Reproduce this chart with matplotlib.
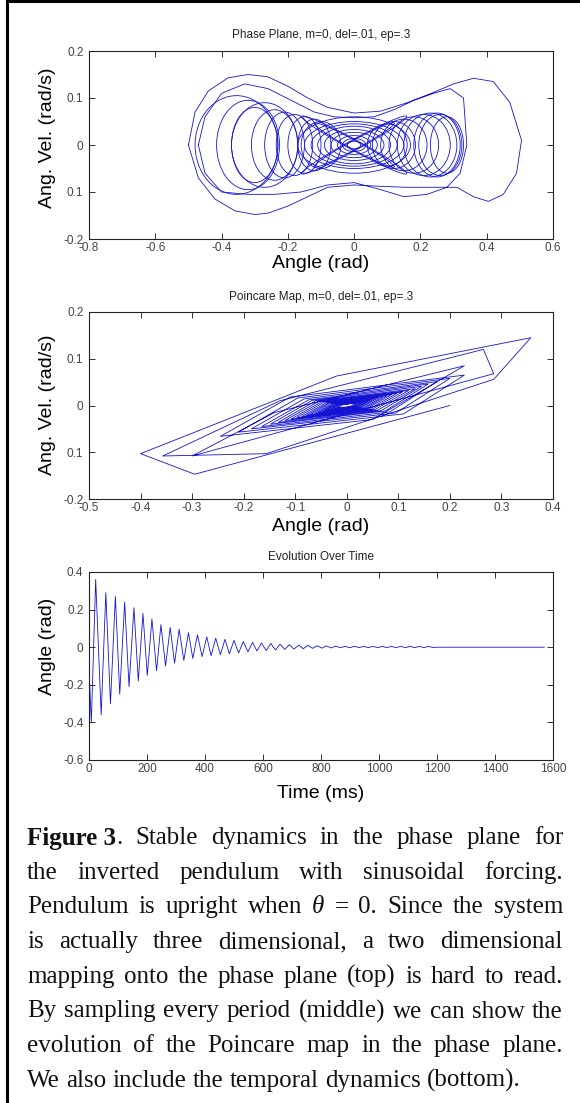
import matplotlib
matplotlib.use('Agg')
import matplotlib.pyplot as plt
from matplotlib.patches import Ellipse
from matplotlib.lines import Line2D
import numpy as np

# ---------------- data ----------------
# phase plane: outer "dumbbell" sweeps (polylines, NaN separates curves)
bell_x = [-0.50, -0.48, -0.44, -0.38, -0.32, -0.26, -0.20, -0.14, -0.08, 0.00, 0.08, 0.16, 0.24, 0.30, 0.36, 0.42, 0.47, 0.505, 0.49, 0.45, 0.405, 0.36, 0.31, 0.24, 0.16, 0.08, 0.00, -0.08, -0.14, -0.20, -0.26, -0.30, -0.36, -0.42, -0.47, -0.50, np.nan,
          -0.47, -0.45, -0.40, -0.33, -0.26, -0.19, -0.12, -0.06, 0.00, 0.06, 0.12, 0.18, 0.24, 0.29, 0.33, 0.34, 0.32, 0.28, 0.22, 0.15, 0.08, 0.00, -0.08, -0.16, -0.24, -0.32, -0.40, -0.45, -0.47]
bell_y = [0.00, 0.07, 0.115, 0.143, 0.150, 0.145, 0.125, 0.100, 0.080, 0.068, 0.072, 0.090, 0.112, 0.130, 0.142, 0.135, 0.090, 0.010, -0.060, -0.105, -0.120, -0.110, -0.090, -0.090, -0.090, -0.088, -0.085, -0.090, -0.110, -0.130, -0.145, -0.148, -0.140, -0.115, -0.070, 0.00, np.nan,
          0.00, 0.06, 0.11, 0.13, 0.12, 0.095, 0.07, 0.06, 0.058, 0.06, 0.075, 0.095, 0.11, 0.12, 0.10, 0.00, -0.06, -0.09, -0.105, -0.11, -0.095, -0.08, -0.085, -0.10, -0.105, -0.105, -0.10, -0.06, 0.00]

# phase plane: fast loops (centre, half width, half height, tilt)
loop_cx = [-0.355, -0.32, -0.30, -0.27, -0.24, -0.21, -0.18, -0.15, -0.12, -0.10,
           0.26, 0.25, 0.23, 0.21, 0.18, 0.15, 0.12, 0.10, 0.28,
           0.0, 0.0, 0.0, 0.0, 0.0, 0.0, 0.0, 0.0, 0.0,
           0.0, 0.0, 0.0, 0.0]
loop_rx = [0.125, 0.095, 0.07, 0.10, 0.07, 0.06, 0.055, 0.05, 0.05, 0.06,
           0.065, 0.07, 0.08, 0.08, 0.075, 0.07, 0.065, 0.06, 0.05,
           0.17, 0.15, 0.13, 0.11, 0.09, 0.07, 0.05, 0.035, 0.02,
           0.17, 0.17, 0.13, 0.13]
loop_ry = [0.105, 0.095, 0.08, 0.09, 0.075, 0.07, 0.065, 0.06, 0.055, 0.05,
           0.065, 0.068, 0.068, 0.065, 0.06, 0.055, 0.05, 0.045, 0.06,
           0.06, 0.05, 0.045, 0.04, 0.033, 0.027, 0.02, 0.014, 0.008,
           0.012, 0.012, 0.01, 0.01]
loop_tilt = [0, 0, 0, 0, 0, 0, 0, 0, 0, 0,
             0, 0, 0, 0, 0, 0, 0, 0, 0,
             0, 0, 0, 0, 0, 0, 0, 0, 0,
             21, -21, 21, -21]

# poincare map: outer samples in order
pc_outer_x = [0.200, -0.295, -0.400, -0.020, 0.357, 0.285, -0.156, -0.357, -0.130, 0.265, 0.285, -0.300, -0.140, 0.228, 0.050]
pc_outer_y = [0.000, -0.147, -0.103, 0.063, 0.145, 0.056, -0.103, -0.108, 0.010, 0.120, 0.068, -0.108, -0.015, 0.085, -0.030]
# poincare map: inner rings -> left tip, upper point, right tip, lower point
left_x = [-0.245, -0.210, -0.185, -0.165, -0.148, -0.133, -0.120, -0.108, -0.097, -0.087, -0.078, -0.070, -0.062, -0.055, -0.048, -0.042, -0.036, -0.030, -0.024, -0.018]
left_y = [-0.066, -0.057, -0.050, -0.045, -0.040, -0.036, -0.032, -0.029, -0.026, -0.0235, -0.021, -0.019, -0.017, -0.015, -0.013, -0.011, -0.0097, -0.008, -0.0065, -0.005]
up_x = [-0.110, -0.095, -0.083, -0.074, -0.067, -0.060, -0.054, -0.049, -0.044, -0.039, -0.035, -0.032, -0.028, -0.025, -0.022, -0.019, -0.016, -0.014, -0.011, -0.008]
up_y = [0.018, 0.016, 0.014, 0.012, 0.011, 0.010, 0.009, 0.008, 0.0073, 0.0065, 0.0059, 0.0053, 0.0047, 0.0041, 0.0036, 0.0032, 0.0027, 0.0023, 0.0018, 0.0014]
right_x = [0.228, 0.200, 0.175, 0.158, 0.145, 0.133, 0.120, 0.108, 0.097, 0.087, 0.078, 0.070, 0.062, 0.055, 0.048, 0.042, 0.036, 0.030, 0.024, 0.018]
right_y = [0.065, 0.058, 0.051, 0.046, 0.041, 0.036, 0.032, 0.029, 0.026, 0.0235, 0.021, 0.019, 0.017, 0.015, 0.013, 0.011, 0.0097, 0.008, 0.0065, 0.005]
low_x = [0.110, 0.095, 0.083, 0.074, 0.067, 0.060, 0.054, 0.049, 0.044, 0.039, 0.035, 0.032, 0.028, 0.025, 0.022, 0.019, 0.016, 0.014, 0.011, 0.008]
low_y = [-0.018, -0.016, -0.014, -0.012, -0.011, -0.010, -0.009, -0.008, -0.0073, -0.0065, -0.0059, -0.0053, -0.0047, -0.0041, -0.0036, -0.0032, -0.0027, -0.0023, -0.0018, -0.0014]

# time evolution: successive extrema (ms, rad)
t_ms = [0, 8, 23, 42, 58, 74, 91, 106, 123, 138, 155, 170, 186, 201, 217, 233, 248, 264, 280, 295,
        311, 327, 343, 358, 374, 390, 406, 421, 437, 453, 469, 484, 500, 516, 532, 548, 564, 579, 595, 611,
        627, 643, 659, 675, 691, 707, 723, 739, 755, 771, 787, 803, 819, 835, 851, 867, 883, 899, 915, 931,
        947, 963, 979, 995, 1011, 1027, 1043, 1059, 1075, 1091, 1107, 1123, 1139, 1155, 1171, 1187, 1195, 1570]
angle = [-0.11, -0.40, 0.36, -0.36, 0.29, -0.30, 0.27, -0.25, 0.24, -0.21, 0.21, -0.18, 0.18, -0.15, 0.15, -0.125, 0.12, -0.10, 0.105, -0.085,
         0.095, -0.07, 0.077, -0.06, 0.066, -0.05, 0.055, -0.045, 0.048, -0.04, 0.042, -0.035, 0.036, -0.03, 0.03, -0.025, 0.026, -0.02, 0.022, -0.018,
         0.02, -0.015, 0.016, -0.012, 0.013, -0.01, 0.011, -0.008, 0.01, -0.006, 0.008, -0.005, 0.007, -0.004, 0.006, -0.003, 0.005, -0.003, 0.005, -0.002,
         0.004, -0.002, 0.004, -0.002, 0.004, -0.002, 0.004, -0.002, 0.004, -0.002, 0.004, -0.002, 0.004, -0.002, 0.004, -0.002, 0.0, 0.0]

top_title = 'Phase Plane, m=0, del=.01, ep=.3'
mid_title = 'Poincare Map, m=0, del=.01, ep=.3'
bot_title = 'Evolution Over Time'
vel_labels = ['-0.2', '0.1', '0', '0.1', '0.2']   # minus sign is missing in the source on -0.1

caption = [
    [[('Figure 3', 'bold', 'normal'), ('.', 'normal', 'normal')], 'Stable', 'dynamics', 'in', 'the', 'phase', 'plane', 'for'],
    ['the', 'inverted', 'pendulum', 'with', 'sinusoidal', 'forcing.'],
    ['Pendulum', 'is', 'upright', 'when', [('\u03b8', 'normal', 'italic')], '=', '0.', 'Since', 'the', 'system'],
    ['is', 'actually', 'three', 'dimensional,', 'a', 'two', 'dimensional'],
    ['mapping', 'onto', 'the', 'phase', 'plane', '(top)', 'is', 'hard', 'to', 'read.'],
    ['By', 'sampling', 'every', 'period', '(middle)', 'we', 'can', 'show', 'the'],
    ['evolution', 'of', 'the', 'Poincare', 'map', 'in', 'the', 'phase', 'plane.'],
    ['We', 'also', 'include', 'the', 'temporal', 'dynamics', '(bottom).'],
]

# ---------------- figure ----------------
W, H = 580, 1103
fig = plt.figure(figsize=(W / 100, H / 100), dpi=100)
plt.rcParams['font.family'] = ['Liberation Sans', 'DejaVu Sans']

line_col = '#1414d2'
tick_col = '#444444'


def make_axes(top_px, bot_px):
    ax = fig.add_axes([89 / W, 1 - bot_px / H, 464 / W, (bot_px - top_px) / H])
    for s in ax.spines.values():
        s.set_color('#222222')
        s.set_linewidth(0.8)
    ax.tick_params(direction='in', length=4, width=0.7, top=True, right=True,
                   labelsize=8.5, labelcolor=tick_col, color='#333333')
    ax.tick_params(axis='x', pad=2)
    ax.tick_params(axis='y', pad=4)
    return ax


def fig_text(x_px, y_px, s, **kw):
    fig.text(x_px / W, 1 - y_px / H, s, ha='center', va='center', **kw)


# top: phase plane
ax1 = make_axes(51, 239)
ax1.plot(bell_x, bell_y, color=line_col, lw=0.6)
for cx, rx, ry, a in zip(loop_cx, loop_rx, loop_ry, loop_tilt):
    ax1.add_patch(Ellipse((cx, 0.0), 2 * rx, 2 * ry, angle=a, fill=False,
                          edgecolor=line_col, lw=0.6))
ax1.set_xlim(-0.8, 0.6)
ax1.set_ylim(-0.2, 0.2)
ax1.set_xticks(np.arange(-0.8, 0.61, 0.2))
ax1.set_xticklabels(['-0.8', '-0.6', '-0.4', '-0.2', '0', '0.2', '0.4', '0.6'])
ax1.set_yticks([-0.2, -0.1, 0, 0.1, 0.2])
ax1.set_yticklabels(vel_labels)

# middle: poincare map, samples joined in the order they were taken
pc_x, pc_y = list(pc_outer_x), list(pc_outer_y)
for k in range(len(left_x)):
    pc_x += [left_x[k], up_x[k], right_x[k], low_x[k]]
    pc_y += [left_y[k], up_y[k], right_y[k], low_y[k]]
ax2 = make_axes(312, 499)
ax2.plot(pc_x, pc_y, color=line_col, lw=0.6)
ax2.set_xlim(-0.5, 0.4)
ax2.set_ylim(-0.2, 0.2)
ax2.set_xticks(np.arange(-0.5, 0.41, 0.1))
ax2.set_xticklabels(['-0.5', '-0.4', '-0.3', '-0.2', '-0.1', '0', '0.1', '0.2', '0.3', '0.4'])
ax2.set_yticks([-0.2, -0.1, 0, 0.1, 0.2])
ax2.set_yticklabels(vel_labels)

# bottom: time series
ax3 = make_axes(572, 760)
ax3.plot(t_ms, angle, color=line_col, lw=0.6)
ax3.set_xlim(0, 1600)
ax3.set_ylim(-0.6, 0.4)
ax3.set_xticks(np.arange(0, 1601, 200))
ax3.set_yticks([-0.6, -0.4, -0.2, 0, 0.2, 0.4])
ax3.set_yticklabels(['-0.6', '-0.4', '-0.2', '0', '0.2', '0.4'])

# titles and labels
cx_px = 89 + 232
fig_text(cx_px, 35, top_title, fontsize=8.5, color='#222222')
fig_text(cx_px, 297, mid_title, fontsize=8.5, color='#222222')
fig_text(cx_px, 557, bot_title, fontsize=8.5, color='#222222')
fig_text(cx_px, 263, 'Angle (rad)', fontsize=14)
fig_text(cx_px, 526, 'Angle (rad)', fontsize=14)
fig_text(cx_px, 793, 'Time (ms)', fontsize=14)
fig_text(47, 138, 'Ang. Vel. (rad/s)', fontsize=14, rotation=90)
fig_text(47, 405, 'Ang. Vel. (rad/s)', fontsize=14, rotation=90)
fig_text(47, 646, 'Angle (rad)', fontsize=14, rotation=90)

# frame lines (cropped box: top and left edges)
fig.add_artist(Line2D([7 / W, 1], [1 - 1 / H, 1 - 1 / H], color='black', lw=2.2))
fig.add_artist(Line2D([7 / W, 7 / W], [0, 1], color='black', lw=2.2))

# caption, justified
renderer = fig.canvas.get_renderer()
cap_left, cap_right = 27, 563
cap_size = 18
serif = ['Liberation Serif', 'DejaVu Serif']


def piece_width(s, weight, style):
    t = fig.text(0, 0, s, fontsize=cap_size, family=serif, weight=weight, style=style)
    w = t.get_window_extent(renderer).width
    t.remove()
    return w


space_w = piece_width('a b', 'normal', 'normal') - piece_width('ab', 'normal', 'normal')
for i, words in enumerate(caption):
    y_px = 838 + i * 34.7
    toks = []
    for w in words:
        pieces = w if isinstance(w, list) else [(w, 'normal', 'normal')]
        widths = [piece_width(*p) for p in pieces]
        toks.append((pieces, widths))
    total = sum(sum(ws) for _, ws in toks)
    last = i == len(caption) - 1
    gap = space_w if last else max((cap_right - cap_left - total) / (len(toks) - 1), 0.5 * space_w)
    x = cap_left
    for pieces, widths in toks:
        for (s, weight, style), pw in zip(pieces, widths):
            fig.text(x / W, 1 - y_px / H, s, fontsize=cap_size, family=serif,
                     weight=weight, style=style, ha='left', va='center', color='#111111')
            x += pw
        x += gap

fig.savefig('out.png', dpi=100)
